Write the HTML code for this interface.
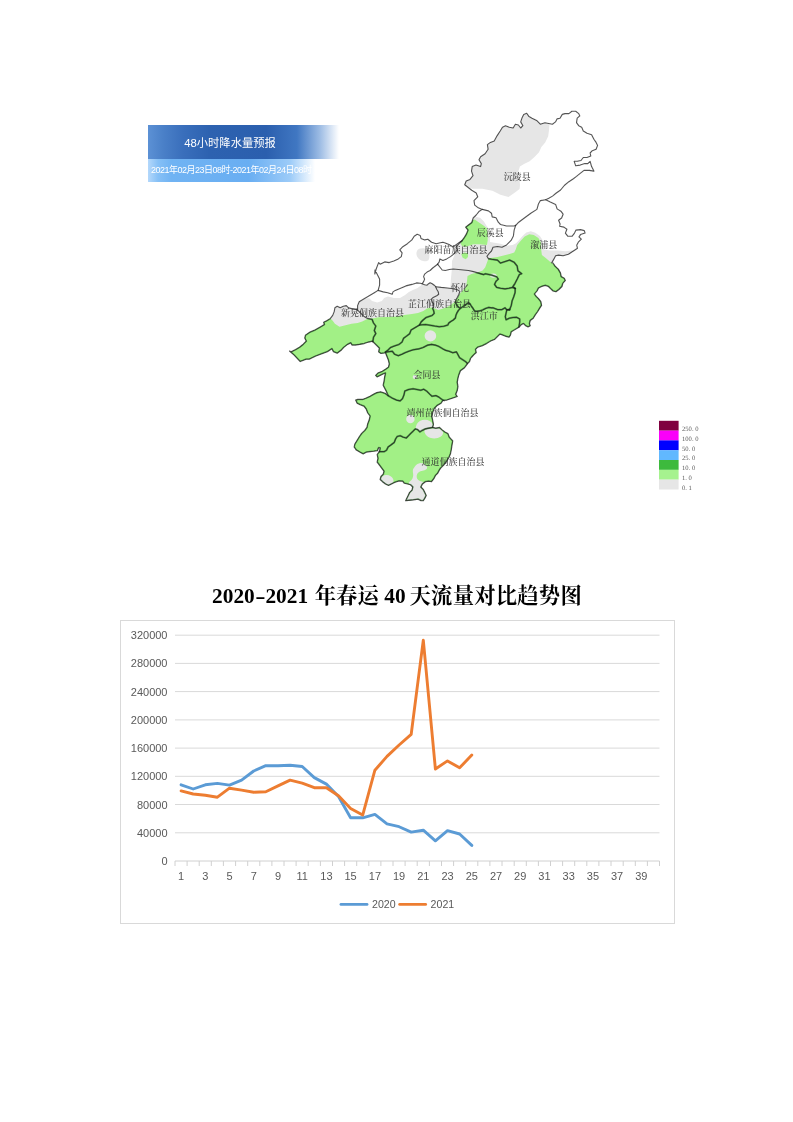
<!DOCTYPE html>
<html lang="zh"><head><meta charset="utf-8"><title>page</title>
<style>
html,body{margin:0;padding:0;background:#fff;}
body{width:793px;height:1122px;position:relative;overflow:hidden;font-family:"Liberation Sans","Noto Sans CJK SC",sans-serif;}
svg{position:absolute;left:0;top:0;}
.ax{font-family:"Liberation Sans",sans-serif;font-size:11px;fill:#595959;}
.ml{font-family:"Liberation Serif","Noto Serif CJK SC",serif;font-size:9px;font-weight:500;fill:#2a2a2a;fill-opacity:.88;}
.lg{font-family:"Liberation Serif","Noto Serif CJK SC",serif;font-size:6.6px;fill:#5a5a5a;text-rendering:geometricPrecision;}
#b1{position:absolute;left:148px;top:125.3px;width:190.5px;height:33.7px;background:linear-gradient(90deg,#5c91d5 0%,#4a80c8 8%,#3a6fbc 18%,#2d62b0 32%,#2b5fae 62%,#4077c2 78%,#9dbce4 90%,#ffffff 100%);color:#fff;font-size:11.3px;line-height:33.7px;}
#b1 span{position:absolute;left:36.2px;top:1.6px;white-space:nowrap;}
#b2{position:absolute;left:148px;top:159px;width:167px;height:22.7px;background:linear-gradient(90deg,#b4d8fb 0%,#86c0f6 6%,#70b3f3 14%,#69aef2 60%,#9ccbf8 85%,#ffffff 100%);color:#fff;font-size:9px;line-height:22.7px;white-space:nowrap;overflow:hidden;}
#b2 span{position:absolute;left:3px;top:0;letter-spacing:-0.5px;}
#title{position:absolute;left:212.1px;top:582px;width:500px;text-align:left;font-family:"Liberation Serif","Noto Serif CJK SC",serif;font-weight:bold;font-size:21.33px;line-height:28px;color:#000;white-space:nowrap;}
#title .hy{display:inline-block;width:10.67px;text-align:center;transform:scaleX(1.45);}
#title .g{display:inline-block;width:6.7px;}
</style></head><body>
<div id="b1"><span>48小时降水量预报</span></div>
<div id="b2"><span>2021年02月23日08时-2021年02月24日08时</span></div>
<svg width="793" height="1122" viewBox="0 0 793 1122">
<defs><clipPath id="cp"><path d="M461.9,240.7 L464.1,237.7 L466.4,233.9 L467.9,230.1 L465.6,227.1 L468.7,224.8 L471.7,222.5 L473.2,218.0 L476.2,215.0 L479.3,211.2 L482.3,209.4 L477.7,207.4 L474.7,205.1 L474.0,200.6 L477.7,196.8 L476.2,193.0 L471.7,190.3 L464.7,184.7 L466.2,181.0 L470.0,179.4 L473.0,175.7 L471.5,171.1 L472.2,166.6 L476.0,165.1 L480.6,166.6 L481.3,163.6 L479.0,159.8 L480.6,156.7 L485.1,153.7 L488.1,149.2 L487.4,144.6 L490.4,142.4 L494.2,140.9 L497.2,135.6 L500.2,131.0 L502.5,127.2 L505.5,125.7 L509.3,127.2 L513.1,128.0 L515.4,124.2 L518.4,125.0 L520.7,128.0 L522.9,125.7 L520.7,121.9 L522.2,117.4 L523.7,114.4 L526.7,113.3 L529.0,116.6 L532.0,118.2 L536.6,120.4 L540.3,124.2 L544.9,122.7 L548.7,123.5 L552.4,124.2 L555.5,121.9 L557.0,118.9 L560.0,118.2 L562.3,114.4 L565.0,113.6 L568.9,113.6 L571.9,111.3 L575.7,111.3 L578.7,113.6 L579.8,115.9 L577.2,118.2 L576.5,122.7 L578.7,125.7 L581.7,127.2 L583.3,131.0 L587.0,133.3 L591.6,134.8 L593.9,139.3 L596.1,142.4 L597.6,145.4 L596.1,149.2 L592.3,150.7 L590.1,153.0 L590.8,156.0 L587.0,157.5 L583.3,157.5 L581.0,160.5 L577.2,161.3 L574.2,161.3 L575.7,165.8 L580.2,165.1 L584.8,163.6 L587.8,163.6 L590.1,161.3 L591.6,166.6 L593.9,171.1 L589.3,170.4 L584.0,170.4 L580.2,173.4 L576.5,176.4 L573.4,178.7 L568.9,181.7 L564.3,185.5 L560.6,190.0 L556.3,193.0 L552.5,196.1 L548.8,198.3 L545.7,199.8 L550.3,202.1 L555.6,204.4 L557.1,208.9 L560.9,211.2 L563.1,214.2 L561.6,218.0 L558.6,220.3 L560.1,224.0 L559.6,226.3 L563.9,227.1 L566.9,229.3 L565.4,233.1 L567.7,236.2 L572.2,236.2 L574.5,233.1 L576.0,230.1 L580.5,229.6 L584.3,230.6 L585.1,233.1 L580.5,234.6 L579.0,236.9 L581.3,239.2 L578.3,242.2 L576.7,245.2 L577.5,248.3 L573.0,251.3 L568.4,254.3 L563.1,255.8 L558.6,255.1 L555.6,255.8 L554.0,258.9 L551.8,262.6 L553.0,263.0 L555.2,266.1 L558.3,269.1 L560.5,272.9 L561.3,276.6 L564.3,278.2 L565.4,280.4 L562.8,283.5 L562.0,286.5 L559.0,289.5 L556.0,291.8 L553.0,291.0 L550.7,288.8 L548.4,286.5 L545.4,285.4 L541.6,286.5 L538.6,288.0 L537.1,291.0 L534.5,294.0 L536.3,296.3 L538.6,298.6 L540.9,301.6 L541.6,305.4 L539.6,308.4 L537.8,311.5 L535.6,314.5 L533.3,318.3 L530.3,320.5 L529.5,323.6 L530.3,325.8 L528.0,326.9 L525.7,325.8 L523.5,323.6 L521.2,324.8 L518.9,327.3 L515.1,329.6 L511.3,331.9 L510.6,334.9 L509.1,337.2 L506.1,336.4 L502.3,334.9 L500.0,334.2 L497.5,336.6 L494.5,339.6 L490.7,341.1 L486.9,343.4 L482.4,345.7 L477.8,347.2 L475.6,349.4 L476.3,352.5 L474.0,354.7 L471.8,357.0 L470.6,358.5 L469.6,361.6 L467.6,363.6 L464.6,367.7 L460.5,370.7 L458.8,375.2 L458.0,378.4 L457.3,382.2 L458.0,386.7 L457.3,390.5 L455.8,394.3 L457.3,396.6 L453.0,398.1 L447.0,400.1 L442.9,400.5 L441.1,403.2 L437.3,405.4 L434.3,408.5 L432.8,412.2 L432.0,416.8 L432.8,420.6 L433.5,424.3 L432.8,427.4 L435.8,428.1 L439.6,427.4 L441.9,429.6 L444.9,431.9 L447.9,433.4 L449.4,437.2 L452.8,440.9 L452.0,445.4 L451.3,450.0 L450.5,453.8 L449.0,457.5 L446.7,461.3 L443.7,465.1 L440.7,468.1 L439.2,470.4 L437.6,473.4 L435.4,475.7 L433.9,478.7 L431.6,481.7 L428.6,481.3 L425.5,481.7 L422.5,484.0 L421.0,487.0 L423.3,489.3 L424.8,492.3 L426.3,495.4 L424.8,498.4 L423.3,500.7 L421.0,500.7 L418.0,499.2 L413.4,499.9 L408.9,500.4 L405.6,500.7 L406.6,498.4 L408.1,495.4 L409.6,492.3 L411.9,490.1 L412.7,487.0 L410.4,484.8 L407.4,484.0 L404.3,483.3 L402.8,481.3 L399.0,481.0 L394.5,482.5 L391.5,484.0 L388.5,485.5 L385.4,484.0 L382.4,481.7 L380.1,479.5 L380.9,476.5 L383.2,474.2 L383.9,471.2 L381.6,468.1 L379.4,465.1 L377.1,462.1 L377.9,458.3 L377.1,454.5 L379.4,451.5 L380.1,448.0 L378.6,447.7 L377.5,450.8 L373.8,451.3 L370.0,451.6 L366.2,452.3 L363.2,453.9 L360.1,452.3 L356.3,450.1 L354.1,447.0 L354.8,444.0 L357.1,440.2 L359.4,436.5 L361.6,433.4 L364.7,430.4 L366.9,427.4 L367.7,423.6 L369.2,419.8 L370.0,416.0 L367.7,413.0 L366.2,409.2 L363.9,406.2 L360.1,404.7 L357.1,403.2 L355.6,400.1 L357.9,399.4 L362.4,399.4 L366.2,397.9 L370.0,396.3 L373.8,394.1 L376.8,392.6 L380.6,391.8 L385.1,393.3 L388.1,395.6 L386.2,391.3 L384.6,388.3 L383.1,385.2 L383.9,381.5 L384.6,376.9 L385.4,373.1 L383.1,373.9 L380.1,375.4 L377.1,376.9 L375.6,375.4 L377.8,373.1 L381.6,371.6 L385.4,369.3 L388.4,367.1 L389.2,364.0 L388.4,360.3 L386.9,356.5 L385.4,352.7 L384.6,353.0 L380.9,353.5 L378.6,351.9 L379.3,348.2 L376.3,345.1 L372.5,341.3 L368.8,342.1 L364.2,343.6 L359.7,344.4 L355.1,345.1 L352.1,345.1 L350.6,342.9 L347.6,344.4 L343.8,347.4 L341.5,350.0 L337.2,353.2 L333.4,351.7 L331.9,348.7 L327.4,351.7 L321.3,354.0 L315.3,356.3 L309.2,359.3 L306.2,359.2 L300.2,361.6 L294.1,355.2 L289.5,351.0 L291.1,351.7 L295.6,349.4 L299.4,347.2 L303.2,344.2 L306.2,341.1 L304.7,338.1 L305.4,335.1 L310.0,332.0 L315.3,329.8 L320.6,326.7 L324.3,324.5 L323.6,322.2 L326.6,320.7 L330.4,318.4 L332.7,315.4 L334.2,311.6 L334.9,307.8 L337.2,306.3 L340.2,307.8 L343.3,306.3 L346.3,305.6 L348.6,307.8 L351.6,308.6 L356.9,309.6 L357.6,310.1 L357.6,305.6 L359.2,301.8 L362.9,299.5 L366.7,297.2 L370.5,295.0 L374.3,292.7 L378.1,290.4 L379.6,285.1 L379.6,279.1 L377.3,274.5 L375.0,270.0 L374.8,274.0 L376.3,268.7 L378.6,262.6 L380.1,264.2 L384.7,261.9 L389.2,262.6 L393.8,261.1 L398.3,258.9 L401.3,256.6 L402.1,252.8 L399.8,249.8 L402.8,246.7 L407.4,243.7 L411.9,239.9 L414.2,236.2 L417.2,234.3 L420.2,235.4 L421.0,238.4 L424.8,239.9 L427.8,239.2 L431.6,242.2 L436.1,243.7 L439.2,243.0 L442.9,242.2 L445.2,243.0 L449.0,244.5 L452.8,246.7 L456.6,244.5 L459.6,242.2Z"/></clipPath><filter id="bl" x="-5%" y="-5%" width="110%" height="110%"><feGaussianBlur stdDeviation="0.4"/></filter></defs>
<g filter="url(#bl)">
<g clip-path="url(#cp)">
<path d="M549.4,124.2 L549.0,130.3 L548.2,136.3 L545.2,142.4 L541.4,146.9 L539.0,152.2 L534.5,157.0 L529.6,161.3 L524.0,164.0 L519.9,166.6 L518.5,171.0 L519.5,178.7 L520.0,185.0 L519.6,189.0 L514.6,192.8 L508.5,196.9 L500.4,194.8 L492.4,190.8 L482.3,188.8 L472.2,188.8 L467.2,186.8 L455.0,185.0 L455.0,95.0 L550.0,95.0Z" fill="#e6e6e6"/>
<path d="M362.0,300.5 L364.0,299.3 L369.0,298.0 L372.0,301.0 L377.3,302.5 L381.9,301.0 L384.1,298.0 L387.9,296.5 L394.0,298.0 L400.0,298.0 L405.1,295.0 L408.9,291.9 L413.4,289.7 L417.2,288.2 L421.0,285.5 L422.1,283.7 L424.6,284.7 L427.1,285.2 L428.6,283.7 L430.1,282.7 L432.2,283.7 L434.2,285.2 L435.7,286.7 L450.3,288.0 L450.8,280.1 L451.8,270.0 L452.0,261.1 L454.3,255.5 L456.8,251.0 L457.0,247.5 L459.6,243.0 L461.9,240.7 L458.0,236.0 L462.0,228.0 L466.0,220.0 L472.5,219.0 L476.3,216.9 L480.1,217.7 L483.9,221.5 L486.2,225.3 L488.4,228.3 L490.0,234.0 L490.0,241.9 L494.5,242.7 L500.5,243.7 L506.6,245.7 L512.6,244.9 L515.7,243.4 L518.7,240.4 L522.5,235.9 L526.3,232.5 L530.8,231.3 L535.3,232.8 L539.9,235.9 L542.5,240.0 L543.8,246.0 L544.0,249.5 L550.3,250.5 L557.8,250.5 L565.4,251.3 L571.5,250.5 L580.0,250.0 L580.0,270.0 L480.0,275.0 L470.0,305.0 L440.0,315.0 L400.0,322.0 L340.0,332.0 L325.0,325.0 L322.0,305.0 L340.0,298.0 L356.0,301.0Z" fill="#e6e6e6"/>
<path d="M416.6,251.9 Q417.1,249.4 419.1,248.7 Q421.2,248.0 423.7,248.2 Q426.2,248.4 427.7,249.9 Q429.2,251.5 429.4,254.0 Q429.6,256.5 429.2,258.5 Q428.8,260.5 427.0,261.0 Q425.2,261.5 423.2,261.0 Q421.2,260.5 419.6,259.5 Q418.1,258.5 417.1,256.5 Q416.1,254.5 416.6,251.9Z" fill="#e6e6e6"/>
<path d="M464.0,222.0 L470.0,221.0 L474.8,219.5 L478.6,222.2 L483.1,225.3 L486.9,228.3 L487.7,234.3 L487.7,240.4 L486.9,244.9 L479.3,244.2 L473.3,244.2 L468.8,245.7 L465.7,247.0 L462.0,246.0 L460.5,243.5 L461.9,240.7 L458.0,240.0 L460.0,232.0Z" fill="#a2f086"/>
<path d="M461.2,254.0 L464.2,252.5 L468.0,253.3 L468.0,257.0 L465.7,259.3 L462.7,257.8Z" fill="#a2f086"/>
<path d="M280.0,330.0 L329.0,317.0 L332.7,320.7 L334.9,323.7 L339.5,326.7 L345.5,325.2 L351.6,323.7 L357.6,323.0 L362.2,321.5 L366.7,319.2 L372.0,318.4 L378.8,317.2 L387.9,316.9 L397.0,316.5 L404.3,315.0 L411.9,313.9 L418.0,313.1 L423.3,310.9 L427.0,308.6 L430.1,307.4 L433.7,307.9 L438.2,309.9 L443.2,308.4 L449.3,305.9 L454.3,302.3 L457.4,298.3 L459.9,293.8 L462.4,290.7 L465.9,287.2 L467.0,281.1 L467.5,276.1 L471.5,273.9 L477.5,272.6 L482.6,270.5 L485.1,267.5 L486.1,265.0 L488.4,258.6 L492.2,257.8 L497.5,257.0 L503.6,255.5 L509.6,254.0 L514.2,252.5 L515.7,249.5 L517.2,244.9 L521.0,240.4 L524.7,236.6 L529.3,234.3 L533.8,235.1 L538.4,238.1 L541.0,242.5 L541.2,249.8 L541.9,255.1 L545.7,258.1 L551.0,262.6 L556.0,266.0 L620.0,300.0 L620.0,520.0 L280.0,520.0Z" fill="#a2f086"/>
<ellipse cx="430.4" cy="335.9" rx="5.8" ry="5.6" fill="#e6e6e6"/>
<ellipse cx="414.9" cy="376.9" rx="2.2" ry="2.0" fill="#e6e6e6"/>
<ellipse cx="410.4" cy="419" rx="4.2" ry="4.3" fill="#e6e6e6"/>
<ellipse cx="493.3" cy="275.6" rx="3.3" ry="2.1" fill="#e6e6e6"/>
<path d="M415.7,427.4 Q416.1,425.9 416.9,424.0 Q417.6,422.1 419.9,420.9 Q422.2,419.8 424.8,419.8 Q427.5,419.8 429.7,420.9 Q432.0,422.1 433.2,424.7 Q434.3,427.4 431.6,427.8 Q429.0,428.1 427.1,428.5 Q425.2,428.9 423.7,429.6 Q422.2,430.4 421.0,431.2 Q419.9,431.9 418.8,430.8 Q417.6,429.6 416.5,429.3 Q415.4,428.9 415.7,427.4Z" fill="#e6e6e6"/>
<path d="M424.8,433.0 Q423.7,430.4 425.6,429.6 Q427.5,428.9 430.1,428.5 Q432.8,428.1 435.8,428.1 Q438.8,428.1 440.7,429.3 Q442.6,430.4 443.0,432.3 Q443.4,434.2 441.9,435.7 Q440.3,437.2 437.7,438.0 Q435.0,438.7 432.4,438.3 Q429.7,438.0 427.9,436.8 Q426.0,435.7 424.8,433.0Z" fill="#e6e6e6"/>
<path d="M414.2,467.4 Q414.9,466.6 416.1,465.1 Q417.2,463.6 419.5,463.2 Q421.7,462.8 423.6,463.7 Q425.5,464.6 426.7,466.4 Q427.8,468.1 426.3,469.3 Q424.8,470.4 422.5,470.8 Q420.2,471.2 418.7,472.3 Q417.2,473.4 416.8,475.3 Q416.5,477.2 417.2,478.7 Q418.0,480.2 419.9,481.0 Q421.7,481.7 423.6,482.0 Q425.5,482.2 424.0,483.3 Q422.5,484.3 421.9,485.7 Q421.3,487.0 422.3,488.2 Q423.3,489.3 424.8,492.3 Q426.3,495.4 425.5,498.8 Q424.8,502.2 414.6,502.2 Q404.3,502.2 406.2,498.8 Q408.1,495.4 410.0,492.7 Q411.9,490.1 412.3,488.6 Q412.7,487.0 411.5,485.9 Q410.4,484.8 409.3,484.0 Q408.1,483.3 409.3,482.1 Q410.4,481.0 411.5,479.9 Q412.7,478.7 413.0,476.8 Q413.4,474.9 413.0,473.0 Q412.7,471.2 413.0,469.6 Q413.4,468.1 414.2,467.4Z" fill="#e6e6e6"/>
<path d="M380.2,478.5 Q380.9,477.2 382.4,476.2 Q383.9,475.2 386.2,475.1 Q388.5,474.9 390.3,476.1 Q392.2,477.2 393.0,478.7 Q393.8,480.2 393.4,481.7 Q393.0,483.3 391.5,484.2 Q390.0,485.2 387.7,485.0 Q385.4,484.8 383.7,483.6 Q381.9,482.5 380.7,481.1 Q379.5,479.8 380.2,478.5Z" fill="#e6e6e6"/>
</g>
<clipPath id="gcp"><path d="M464.0,222.0 L470.0,221.0 L474.8,219.5 L478.6,222.2 L483.1,225.3 L486.9,228.3 L487.7,234.3 L487.7,240.4 L486.9,244.9 L479.3,244.2 L473.3,244.2 L468.8,245.7 L465.7,247.0 L462.0,246.0 L460.5,243.5 L461.9,240.7 L458.0,240.0 L460.0,232.0Z"/><path d="M461.2,254.0 L464.2,252.5 L468.0,253.3 L468.0,257.0 L465.7,259.3 L462.7,257.8Z"/><path d="M280.0,330.0 L329.0,317.0 L332.7,320.7 L334.9,323.7 L339.5,326.7 L345.5,325.2 L351.6,323.7 L357.6,323.0 L362.2,321.5 L366.7,319.2 L372.0,318.4 L378.8,317.2 L387.9,316.9 L397.0,316.5 L404.3,315.0 L411.9,313.9 L418.0,313.1 L423.3,310.9 L427.0,308.6 L430.1,307.4 L433.7,307.9 L438.2,309.9 L443.2,308.4 L449.3,305.9 L454.3,302.3 L457.4,298.3 L459.9,293.8 L462.4,290.7 L465.9,287.2 L467.0,281.1 L467.5,276.1 L471.5,273.9 L477.5,272.6 L482.6,270.5 L485.1,267.5 L486.1,265.0 L488.4,258.6 L492.2,257.8 L497.5,257.0 L503.6,255.5 L509.6,254.0 L514.2,252.5 L515.7,249.5 L517.2,244.9 L521.0,240.4 L524.7,236.6 L529.3,234.3 L533.8,235.1 L538.4,238.1 L541.0,242.5 L541.2,249.8 L541.9,255.1 L545.7,258.1 L551.0,262.6 L556.0,266.0 L620.0,300.0 L620.0,520.0 L280.0,520.0Z"/></clipPath>
<g clip-path="url(#cp)"><g clip-path="url(#gcp)" fill="none" stroke="#2f7d2f" stroke-opacity="0.6" stroke-width="1.9" stroke-linejoin="round" stroke-linecap="round">
<path d="M461.9,240.7 L464.1,237.7 L466.4,233.9 L467.9,230.1 L465.6,227.1 L468.7,224.8 L471.7,222.5 L473.2,218.0 L476.2,215.0 L479.3,211.2 L482.3,209.4 L477.7,207.4 L474.7,205.1 L474.0,200.6 L477.7,196.8 L476.2,193.0 L471.7,190.3 L464.7,184.7 L466.2,181.0 L470.0,179.4 L473.0,175.7 L471.5,171.1 L472.2,166.6 L476.0,165.1 L480.6,166.6 L481.3,163.6 L479.0,159.8 L480.6,156.7 L485.1,153.7 L488.1,149.2 L487.4,144.6 L490.4,142.4 L494.2,140.9 L497.2,135.6 L500.2,131.0 L502.5,127.2 L505.5,125.7 L509.3,127.2 L513.1,128.0 L515.4,124.2 L518.4,125.0 L520.7,128.0 L522.9,125.7 L520.7,121.9 L522.2,117.4 L523.7,114.4 L526.7,113.3 L529.0,116.6 L532.0,118.2 L536.6,120.4 L540.3,124.2 L544.9,122.7 L548.7,123.5 L552.4,124.2 L555.5,121.9 L557.0,118.9 L560.0,118.2 L562.3,114.4 L565.0,113.6 L568.9,113.6 L571.9,111.3 L575.7,111.3 L578.7,113.6 L579.8,115.9 L577.2,118.2 L576.5,122.7 L578.7,125.7 L581.7,127.2 L583.3,131.0 L587.0,133.3 L591.6,134.8 L593.9,139.3 L596.1,142.4 L597.6,145.4 L596.1,149.2 L592.3,150.7 L590.1,153.0 L590.8,156.0 L587.0,157.5 L583.3,157.5 L581.0,160.5 L577.2,161.3 L574.2,161.3 L575.7,165.8 L580.2,165.1 L584.8,163.6 L587.8,163.6 L590.1,161.3 L591.6,166.6 L593.9,171.1 L589.3,170.4 L584.0,170.4 L580.2,173.4 L576.5,176.4 L573.4,178.7 L568.9,181.7 L564.3,185.5 L560.6,190.0 L556.3,193.0 L552.5,196.1 L548.8,198.3 L545.7,199.8 L550.3,202.1 L555.6,204.4 L557.1,208.9 L560.9,211.2 L563.1,214.2 L561.6,218.0 L558.6,220.3 L560.1,224.0 L559.6,226.3 L563.9,227.1 L566.9,229.3 L565.4,233.1 L567.7,236.2 L572.2,236.2 L574.5,233.1 L576.0,230.1 L580.5,229.6 L584.3,230.6 L585.1,233.1 L580.5,234.6 L579.0,236.9 L581.3,239.2 L578.3,242.2 L576.7,245.2 L577.5,248.3 L573.0,251.3 L568.4,254.3 L563.1,255.8 L558.6,255.1 L555.6,255.8 L554.0,258.9 L551.8,262.6 L553.0,263.0 L555.2,266.1 L558.3,269.1 L560.5,272.9 L561.3,276.6 L564.3,278.2 L565.4,280.4 L562.8,283.5 L562.0,286.5 L559.0,289.5 L556.0,291.8 L553.0,291.0 L550.7,288.8 L548.4,286.5 L545.4,285.4 L541.6,286.5 L538.6,288.0 L537.1,291.0 L534.5,294.0 L536.3,296.3 L538.6,298.6 L540.9,301.6 L541.6,305.4 L539.6,308.4 L537.8,311.5 L535.6,314.5 L533.3,318.3 L530.3,320.5 L529.5,323.6 L530.3,325.8 L528.0,326.9 L525.7,325.8 L523.5,323.6 L521.2,324.8 L518.9,327.3 L515.1,329.6 L511.3,331.9 L510.6,334.9 L509.1,337.2 L506.1,336.4 L502.3,334.9 L500.0,334.2 L497.5,336.6 L494.5,339.6 L490.7,341.1 L486.9,343.4 L482.4,345.7 L477.8,347.2 L475.6,349.4 L476.3,352.5 L474.0,354.7 L471.8,357.0 L470.6,358.5 L469.6,361.6 L467.6,363.6 L464.6,367.7 L460.5,370.7 L458.8,375.2 L458.0,378.4 L457.3,382.2 L458.0,386.7 L457.3,390.5 L455.8,394.3 L457.3,396.6 L453.0,398.1 L447.0,400.1 L442.9,400.5 L441.1,403.2 L437.3,405.4 L434.3,408.5 L432.8,412.2 L432.0,416.8 L432.8,420.6 L433.5,424.3 L432.8,427.4 L435.8,428.1 L439.6,427.4 L441.9,429.6 L444.9,431.9 L447.9,433.4 L449.4,437.2 L452.8,440.9 L452.0,445.4 L451.3,450.0 L450.5,453.8 L449.0,457.5 L446.7,461.3 L443.7,465.1 L440.7,468.1 L439.2,470.4 L437.6,473.4 L435.4,475.7 L433.9,478.7 L431.6,481.7 L428.6,481.3 L425.5,481.7 L422.5,484.0 L421.0,487.0 L423.3,489.3 L424.8,492.3 L426.3,495.4 L424.8,498.4 L423.3,500.7 L421.0,500.7 L418.0,499.2 L413.4,499.9 L408.9,500.4 L405.6,500.7 L406.6,498.4 L408.1,495.4 L409.6,492.3 L411.9,490.1 L412.7,487.0 L410.4,484.8 L407.4,484.0 L404.3,483.3 L402.8,481.3 L399.0,481.0 L394.5,482.5 L391.5,484.0 L388.5,485.5 L385.4,484.0 L382.4,481.7 L380.1,479.5 L380.9,476.5 L383.2,474.2 L383.9,471.2 L381.6,468.1 L379.4,465.1 L377.1,462.1 L377.9,458.3 L377.1,454.5 L379.4,451.5 L380.1,448.0 L378.6,447.7 L377.5,450.8 L373.8,451.3 L370.0,451.6 L366.2,452.3 L363.2,453.9 L360.1,452.3 L356.3,450.1 L354.1,447.0 L354.8,444.0 L357.1,440.2 L359.4,436.5 L361.6,433.4 L364.7,430.4 L366.9,427.4 L367.7,423.6 L369.2,419.8 L370.0,416.0 L367.7,413.0 L366.2,409.2 L363.9,406.2 L360.1,404.7 L357.1,403.2 L355.6,400.1 L357.9,399.4 L362.4,399.4 L366.2,397.9 L370.0,396.3 L373.8,394.1 L376.8,392.6 L380.6,391.8 L385.1,393.3 L388.1,395.6 L386.2,391.3 L384.6,388.3 L383.1,385.2 L383.9,381.5 L384.6,376.9 L385.4,373.1 L383.1,373.9 L380.1,375.4 L377.1,376.9 L375.6,375.4 L377.8,373.1 L381.6,371.6 L385.4,369.3 L388.4,367.1 L389.2,364.0 L388.4,360.3 L386.9,356.5 L385.4,352.7 L384.6,353.0 L380.9,353.5 L378.6,351.9 L379.3,348.2 L376.3,345.1 L372.5,341.3 L368.8,342.1 L364.2,343.6 L359.7,344.4 L355.1,345.1 L352.1,345.1 L350.6,342.9 L347.6,344.4 L343.8,347.4 L341.5,350.0 L337.2,353.2 L333.4,351.7 L331.9,348.7 L327.4,351.7 L321.3,354.0 L315.3,356.3 L309.2,359.3 L306.2,359.2 L300.2,361.6 L294.1,355.2 L289.5,351.0 L291.1,351.7 L295.6,349.4 L299.4,347.2 L303.2,344.2 L306.2,341.1 L304.7,338.1 L305.4,335.1 L310.0,332.0 L315.3,329.8 L320.6,326.7 L324.3,324.5 L323.6,322.2 L326.6,320.7 L330.4,318.4 L332.7,315.4 L334.2,311.6 L334.9,307.8 L337.2,306.3 L340.2,307.8 L343.3,306.3 L346.3,305.6 L348.6,307.8 L351.6,308.6 L356.9,309.6 L357.6,310.1 L357.6,305.6 L359.2,301.8 L362.9,299.5 L366.7,297.2 L370.5,295.0 L374.3,292.7 L378.1,290.4 L379.6,285.1 L379.6,279.1 L377.3,274.5 L375.0,270.0 L374.8,274.0 L376.3,268.7 L378.6,262.6 L380.1,264.2 L384.7,261.9 L389.2,262.6 L393.8,261.1 L398.3,258.9 L401.3,256.6 L402.1,252.8 L399.8,249.8 L402.8,246.7 L407.4,243.7 L411.9,239.9 L414.2,236.2 L417.2,234.3 L420.2,235.4 L421.0,238.4 L424.8,239.9 L427.8,239.2 L431.6,242.2 L436.1,243.7 L439.2,243.0 L442.9,242.2 L445.2,243.0 L449.0,244.5 L452.8,246.7 L456.6,244.5 L459.6,242.2Z"/>
<path d="M482.3,209.4 L488.4,210.9 L491.5,213.2 L492.2,216.9 L496.0,217.7 L498.3,222.2 L500.5,224.5 L506.6,226.0 L514.2,226.0 L515.7,225.3 L518.7,222.2 L524.7,217.7 L530.8,213.2 L536.9,209.4 L538.4,204.1 L540.4,200.6 L545.7,199.8"/>
<path d="M515.7,225.3 L514.2,229.8 L513.4,235.9 L511.1,240.4 L506.6,244.9 L502.0,247.2 L497.5,246.5 L493.0,247.2 L491.5,251.0 L489.2,253.3 L486.9,256.3 L488.4,258.6 L491.5,259.3 L497.5,260.1 L500.5,263.1 L505.1,261.6 L509.6,260.1 L514.2,262.3 L517.2,266.1 L517.9,270.7 L521.7,273.7 L519.4,274.5 L517.2,279.1 L514.9,283.6 L512.9,286.6 L515.2,288.5"/>
<path d="M437.6,264.2 L440.2,267.5 L442.2,270.0 L445.3,270.5 L449.3,269.5 L453.3,269.0 L458.4,269.5 L463.4,270.0 L468.5,270.5 L473.5,271.6 L478.6,273.1 L483.6,274.6 L485.4,273.8 L492.2,275.3 L496.7,276.8 L498.3,279.1 L496.0,281.3 L494.5,284.4 L496.7,287.4 L500.5,288.2 L505.1,288.9 L508.9,288.2 L512.6,287.4 L515.2,288.5"/>
<path d="M461.9,240.7 L459.6,243.0 L456.6,246.7 L457.3,249.8 L454.3,253.6 L450.5,256.6 L446.7,258.9 L442.9,260.4 L439.9,258.9 L439.2,261.9 L437.6,264.2"/>
<path d="M437.6,264.2 L432.7,268.0 L430.1,270.5 L427.1,272.1 L424.6,274.1 L423.6,276.6 L424.6,279.1 L423.6,281.6 L422.1,283.7 L420.2,283.3 L416.5,282.9 L411.9,284.4 L405.9,285.9 L400.6,288.2 L395.3,290.4 L393.0,291.9 L392.2,294.2 L387.7,292.7 L383.2,291.9 L378.1,290.4"/>
<path d="M422.1,283.7 L424.6,284.7 L427.1,285.2 L428.6,283.7 L430.1,282.7 L432.2,283.7 L434.2,285.2 L435.7,286.7 L436.7,289.2 L438.2,291.7 L438.7,294.3 L436.7,295.8 L434.7,296.8 L432.7,297.8 L431.1,299.3 L432.2,301.8 L433.7,303.8 L433.2,306.4 L432.7,308.4 L433.7,310.9 L434.2,313.4 L432.2,315.4 L429.1,316.5 L426.1,317.5 L423.1,320.0 L421.1,322.0 L419.5,325.0"/>
<path d="M435.7,286.7 L441.2,287.4 L447.3,288.0 L453.3,288.7 L457.4,289.7 L459.9,291.4 L458.9,294.3 L457.4,297.3 L455.9,299.8 L455.4,302.3 L456.9,305.4 L459.4,307.9"/>
<path d="M385.4,352.1 L388.4,349.7 L390.7,347.4 L394.5,345.9 L399.0,344.4 L402.0,342.1 L403.6,338.3 L406.6,336.1 L409.6,333.8 L411.1,330.0 L419.5,325.0 L425.5,324.5 L430.1,325.2 L434.6,326.0 L439.2,326.7 L443.7,326.3 L447.8,325.0 L448.8,323.0 L450.8,321.5 L453.3,320.0 L455.4,318.0 L455.9,315.4 L456.9,312.9 L458.4,310.4 L460.4,308.4 L462.4,306.9 L465.4,304.8 L468.5,302.8 L470.0,303.8 L471.5,306.4 L473.0,308.4 L474.5,310.9 L476.5,311.4 L479.6,310.9 L482.6,309.9 L485.6,308.4 L488.6,307.4 L491.7,307.9 L493.0,307.8 L497.5,309.6 L502.0,309.6 L505.1,307.8 L506.6,309.6 L509.6,310.1"/>
<path d="M515.2,288.5 L515.1,292.5 L513.6,297.1 L512.1,300.9 L511.3,305.4 L509.8,309.2"/>
<path d="M509.8,309.2 L506.8,309.9 L506.1,313.0 L505.3,316.7 L506.1,319.8 L509.1,318.3 L512.9,317.5 L516.6,317.2 L519.7,319.0 L519.7,322.0 L518.9,327.3"/>
<path d="M385.4,352.1 L392.2,351.2 L394.5,354.2 L398.3,355.7 L402.0,354.2 L405.1,352.7 L408.9,351.2 L413.4,349.7 L418.7,348.9 L423.2,347.4 L427.8,345.1 L431.6,344.4 L435.3,345.1 L439.1,346.6 L442.9,348.9 L445.9,350.4 L449.0,351.2 L452.7,352.7 L456.5,351.9 L459.5,357.6 L462.5,359.6 L465.6,361.6 L467.6,363.6"/>
<path d="M357.6,310.1 L360.7,313.1 L363.7,316.2 L367.5,318.4 L372.0,319.2 L373.5,323.0 L375.8,326.0 L374.3,330.5 L375.8,333.6 L373.5,337.3 L372.8,341.9 L372.5,341.3"/>
<path d="M388.1,395.6 L391.9,397.9 L396.5,400.1 L400.2,400.9 L402.5,398.6 L404.0,394.8 L404.8,391.1 L408.6,389.5 L413.1,388.8 L416.9,389.5 L420.7,390.3 L423.7,389.2 L426.7,391.1 L429.7,394.1 L432.0,396.3 L435.8,395.6 L438.8,397.1 L441.9,399.4 L444.1,400.9"/>
<path d="M379.0,451.6 L381.3,451.6 L384.3,451.6 L386.6,450.1 L388.1,447.0 L391.2,444.8 L394.2,442.5 L395.7,438.7 L397.2,436.5 L400.2,435.7 L403.3,437.2 L406.3,438.0 L408.6,435.7 L410.8,433.4 L413.1,431.2 L415.4,428.9 L417.6,429.6 L419.9,431.9 L422.2,430.4 L425.2,428.9 L429.0,428.1 L432.8,427.4"/>
</g></g>
<path d="M461.9,240.7 L464.1,237.7 L466.4,233.9 L467.9,230.1 L465.6,227.1 L468.7,224.8 L471.7,222.5 L473.2,218.0 L476.2,215.0 L479.3,211.2 L482.3,209.4 L477.7,207.4 L474.7,205.1 L474.0,200.6 L477.7,196.8 L476.2,193.0 L471.7,190.3 L464.7,184.7 L466.2,181.0 L470.0,179.4 L473.0,175.7 L471.5,171.1 L472.2,166.6 L476.0,165.1 L480.6,166.6 L481.3,163.6 L479.0,159.8 L480.6,156.7 L485.1,153.7 L488.1,149.2 L487.4,144.6 L490.4,142.4 L494.2,140.9 L497.2,135.6 L500.2,131.0 L502.5,127.2 L505.5,125.7 L509.3,127.2 L513.1,128.0 L515.4,124.2 L518.4,125.0 L520.7,128.0 L522.9,125.7 L520.7,121.9 L522.2,117.4 L523.7,114.4 L526.7,113.3 L529.0,116.6 L532.0,118.2 L536.6,120.4 L540.3,124.2 L544.9,122.7 L548.7,123.5 L552.4,124.2 L555.5,121.9 L557.0,118.9 L560.0,118.2 L562.3,114.4 L565.0,113.6 L568.9,113.6 L571.9,111.3 L575.7,111.3 L578.7,113.6 L579.8,115.9 L577.2,118.2 L576.5,122.7 L578.7,125.7 L581.7,127.2 L583.3,131.0 L587.0,133.3 L591.6,134.8 L593.9,139.3 L596.1,142.4 L597.6,145.4 L596.1,149.2 L592.3,150.7 L590.1,153.0 L590.8,156.0 L587.0,157.5 L583.3,157.5 L581.0,160.5 L577.2,161.3 L574.2,161.3 L575.7,165.8 L580.2,165.1 L584.8,163.6 L587.8,163.6 L590.1,161.3 L591.6,166.6 L593.9,171.1 L589.3,170.4 L584.0,170.4 L580.2,173.4 L576.5,176.4 L573.4,178.7 L568.9,181.7 L564.3,185.5 L560.6,190.0 L556.3,193.0 L552.5,196.1 L548.8,198.3 L545.7,199.8 L550.3,202.1 L555.6,204.4 L557.1,208.9 L560.9,211.2 L563.1,214.2 L561.6,218.0 L558.6,220.3 L560.1,224.0 L559.6,226.3 L563.9,227.1 L566.9,229.3 L565.4,233.1 L567.7,236.2 L572.2,236.2 L574.5,233.1 L576.0,230.1 L580.5,229.6 L584.3,230.6 L585.1,233.1 L580.5,234.6 L579.0,236.9 L581.3,239.2 L578.3,242.2 L576.7,245.2 L577.5,248.3 L573.0,251.3 L568.4,254.3 L563.1,255.8 L558.6,255.1 L555.6,255.8 L554.0,258.9 L551.8,262.6 L553.0,263.0 L555.2,266.1 L558.3,269.1 L560.5,272.9 L561.3,276.6 L564.3,278.2 L565.4,280.4 L562.8,283.5 L562.0,286.5 L559.0,289.5 L556.0,291.8 L553.0,291.0 L550.7,288.8 L548.4,286.5 L545.4,285.4 L541.6,286.5 L538.6,288.0 L537.1,291.0 L534.5,294.0 L536.3,296.3 L538.6,298.6 L540.9,301.6 L541.6,305.4 L539.6,308.4 L537.8,311.5 L535.6,314.5 L533.3,318.3 L530.3,320.5 L529.5,323.6 L530.3,325.8 L528.0,326.9 L525.7,325.8 L523.5,323.6 L521.2,324.8 L518.9,327.3 L515.1,329.6 L511.3,331.9 L510.6,334.9 L509.1,337.2 L506.1,336.4 L502.3,334.9 L500.0,334.2 L497.5,336.6 L494.5,339.6 L490.7,341.1 L486.9,343.4 L482.4,345.7 L477.8,347.2 L475.6,349.4 L476.3,352.5 L474.0,354.7 L471.8,357.0 L470.6,358.5 L469.6,361.6 L467.6,363.6 L464.6,367.7 L460.5,370.7 L458.8,375.2 L458.0,378.4 L457.3,382.2 L458.0,386.7 L457.3,390.5 L455.8,394.3 L457.3,396.6 L453.0,398.1 L447.0,400.1 L442.9,400.5 L441.1,403.2 L437.3,405.4 L434.3,408.5 L432.8,412.2 L432.0,416.8 L432.8,420.6 L433.5,424.3 L432.8,427.4 L435.8,428.1 L439.6,427.4 L441.9,429.6 L444.9,431.9 L447.9,433.4 L449.4,437.2 L452.8,440.9 L452.0,445.4 L451.3,450.0 L450.5,453.8 L449.0,457.5 L446.7,461.3 L443.7,465.1 L440.7,468.1 L439.2,470.4 L437.6,473.4 L435.4,475.7 L433.9,478.7 L431.6,481.7 L428.6,481.3 L425.5,481.7 L422.5,484.0 L421.0,487.0 L423.3,489.3 L424.8,492.3 L426.3,495.4 L424.8,498.4 L423.3,500.7 L421.0,500.7 L418.0,499.2 L413.4,499.9 L408.9,500.4 L405.6,500.7 L406.6,498.4 L408.1,495.4 L409.6,492.3 L411.9,490.1 L412.7,487.0 L410.4,484.8 L407.4,484.0 L404.3,483.3 L402.8,481.3 L399.0,481.0 L394.5,482.5 L391.5,484.0 L388.5,485.5 L385.4,484.0 L382.4,481.7 L380.1,479.5 L380.9,476.5 L383.2,474.2 L383.9,471.2 L381.6,468.1 L379.4,465.1 L377.1,462.1 L377.9,458.3 L377.1,454.5 L379.4,451.5 L380.1,448.0 L378.6,447.7 L377.5,450.8 L373.8,451.3 L370.0,451.6 L366.2,452.3 L363.2,453.9 L360.1,452.3 L356.3,450.1 L354.1,447.0 L354.8,444.0 L357.1,440.2 L359.4,436.5 L361.6,433.4 L364.7,430.4 L366.9,427.4 L367.7,423.6 L369.2,419.8 L370.0,416.0 L367.7,413.0 L366.2,409.2 L363.9,406.2 L360.1,404.7 L357.1,403.2 L355.6,400.1 L357.9,399.4 L362.4,399.4 L366.2,397.9 L370.0,396.3 L373.8,394.1 L376.8,392.6 L380.6,391.8 L385.1,393.3 L388.1,395.6 L386.2,391.3 L384.6,388.3 L383.1,385.2 L383.9,381.5 L384.6,376.9 L385.4,373.1 L383.1,373.9 L380.1,375.4 L377.1,376.9 L375.6,375.4 L377.8,373.1 L381.6,371.6 L385.4,369.3 L388.4,367.1 L389.2,364.0 L388.4,360.3 L386.9,356.5 L385.4,352.7 L384.6,353.0 L380.9,353.5 L378.6,351.9 L379.3,348.2 L376.3,345.1 L372.5,341.3 L368.8,342.1 L364.2,343.6 L359.7,344.4 L355.1,345.1 L352.1,345.1 L350.6,342.9 L347.6,344.4 L343.8,347.4 L341.5,350.0 L337.2,353.2 L333.4,351.7 L331.9,348.7 L327.4,351.7 L321.3,354.0 L315.3,356.3 L309.2,359.3 L306.2,359.2 L300.2,361.6 L294.1,355.2 L289.5,351.0 L291.1,351.7 L295.6,349.4 L299.4,347.2 L303.2,344.2 L306.2,341.1 L304.7,338.1 L305.4,335.1 L310.0,332.0 L315.3,329.8 L320.6,326.7 L324.3,324.5 L323.6,322.2 L326.6,320.7 L330.4,318.4 L332.7,315.4 L334.2,311.6 L334.9,307.8 L337.2,306.3 L340.2,307.8 L343.3,306.3 L346.3,305.6 L348.6,307.8 L351.6,308.6 L356.9,309.6 L357.6,310.1 L357.6,305.6 L359.2,301.8 L362.9,299.5 L366.7,297.2 L370.5,295.0 L374.3,292.7 L378.1,290.4 L379.6,285.1 L379.6,279.1 L377.3,274.5 L375.0,270.0 L374.8,274.0 L376.3,268.7 L378.6,262.6 L380.1,264.2 L384.7,261.9 L389.2,262.6 L393.8,261.1 L398.3,258.9 L401.3,256.6 L402.1,252.8 L399.8,249.8 L402.8,246.7 L407.4,243.7 L411.9,239.9 L414.2,236.2 L417.2,234.3 L420.2,235.4 L421.0,238.4 L424.8,239.9 L427.8,239.2 L431.6,242.2 L436.1,243.7 L439.2,243.0 L442.9,242.2 L445.2,243.0 L449.0,244.5 L452.8,246.7 L456.6,244.5 L459.6,242.2Z" fill="none" stroke="#1c1c1c" stroke-opacity="0.75" stroke-width="1.1" stroke-linejoin="round"/>
<path d="M482.3,209.4 L488.4,210.9 L491.5,213.2 L492.2,216.9 L496.0,217.7 L498.3,222.2 L500.5,224.5 L506.6,226.0 L514.2,226.0 L515.7,225.3 L518.7,222.2 L524.7,217.7 L530.8,213.2 L536.9,209.4 L538.4,204.1 L540.4,200.6 L545.7,199.8" fill="none" stroke="#1c1c1c" stroke-opacity="0.75" stroke-width="1.1" stroke-linejoin="round" stroke-linecap="round"/>
<path d="M515.7,225.3 L514.2,229.8 L513.4,235.9 L511.1,240.4 L506.6,244.9 L502.0,247.2 L497.5,246.5 L493.0,247.2 L491.5,251.0 L489.2,253.3 L486.9,256.3 L488.4,258.6 L491.5,259.3 L497.5,260.1 L500.5,263.1 L505.1,261.6 L509.6,260.1 L514.2,262.3 L517.2,266.1 L517.9,270.7 L521.7,273.7 L519.4,274.5 L517.2,279.1 L514.9,283.6 L512.9,286.6 L515.2,288.5" fill="none" stroke="#1c1c1c" stroke-opacity="0.75" stroke-width="1.1" stroke-linejoin="round" stroke-linecap="round"/>
<path d="M437.6,264.2 L440.2,267.5 L442.2,270.0 L445.3,270.5 L449.3,269.5 L453.3,269.0 L458.4,269.5 L463.4,270.0 L468.5,270.5 L473.5,271.6 L478.6,273.1 L483.6,274.6 L485.4,273.8 L492.2,275.3 L496.7,276.8 L498.3,279.1 L496.0,281.3 L494.5,284.4 L496.7,287.4 L500.5,288.2 L505.1,288.9 L508.9,288.2 L512.6,287.4 L515.2,288.5" fill="none" stroke="#1c1c1c" stroke-opacity="0.75" stroke-width="1.1" stroke-linejoin="round" stroke-linecap="round"/>
<path d="M461.9,240.7 L459.6,243.0 L456.6,246.7 L457.3,249.8 L454.3,253.6 L450.5,256.6 L446.7,258.9 L442.9,260.4 L439.9,258.9 L439.2,261.9 L437.6,264.2" fill="none" stroke="#1c1c1c" stroke-opacity="0.75" stroke-width="1.1" stroke-linejoin="round" stroke-linecap="round"/>
<path d="M437.6,264.2 L432.7,268.0 L430.1,270.5 L427.1,272.1 L424.6,274.1 L423.6,276.6 L424.6,279.1 L423.6,281.6 L422.1,283.7 L420.2,283.3 L416.5,282.9 L411.9,284.4 L405.9,285.9 L400.6,288.2 L395.3,290.4 L393.0,291.9 L392.2,294.2 L387.7,292.7 L383.2,291.9 L378.1,290.4" fill="none" stroke="#1c1c1c" stroke-opacity="0.75" stroke-width="1.1" stroke-linejoin="round" stroke-linecap="round"/>
<path d="M422.1,283.7 L424.6,284.7 L427.1,285.2 L428.6,283.7 L430.1,282.7 L432.2,283.7 L434.2,285.2 L435.7,286.7 L436.7,289.2 L438.2,291.7 L438.7,294.3 L436.7,295.8 L434.7,296.8 L432.7,297.8 L431.1,299.3 L432.2,301.8 L433.7,303.8 L433.2,306.4 L432.7,308.4 L433.7,310.9 L434.2,313.4 L432.2,315.4 L429.1,316.5 L426.1,317.5 L423.1,320.0 L421.1,322.0 L419.5,325.0" fill="none" stroke="#1c1c1c" stroke-opacity="0.75" stroke-width="1.1" stroke-linejoin="round" stroke-linecap="round"/>
<path d="M435.7,286.7 L441.2,287.4 L447.3,288.0 L453.3,288.7 L457.4,289.7 L459.9,291.4 L458.9,294.3 L457.4,297.3 L455.9,299.8 L455.4,302.3 L456.9,305.4 L459.4,307.9" fill="none" stroke="#1c1c1c" stroke-opacity="0.75" stroke-width="1.1" stroke-linejoin="round" stroke-linecap="round"/>
<path d="M385.4,352.1 L388.4,349.7 L390.7,347.4 L394.5,345.9 L399.0,344.4 L402.0,342.1 L403.6,338.3 L406.6,336.1 L409.6,333.8 L411.1,330.0 L419.5,325.0 L425.5,324.5 L430.1,325.2 L434.6,326.0 L439.2,326.7 L443.7,326.3 L447.8,325.0 L448.8,323.0 L450.8,321.5 L453.3,320.0 L455.4,318.0 L455.9,315.4 L456.9,312.9 L458.4,310.4 L460.4,308.4 L462.4,306.9 L465.4,304.8 L468.5,302.8 L470.0,303.8 L471.5,306.4 L473.0,308.4 L474.5,310.9 L476.5,311.4 L479.6,310.9 L482.6,309.9 L485.6,308.4 L488.6,307.4 L491.7,307.9 L493.0,307.8 L497.5,309.6 L502.0,309.6 L505.1,307.8 L506.6,309.6 L509.6,310.1" fill="none" stroke="#1c1c1c" stroke-opacity="0.75" stroke-width="1.1" stroke-linejoin="round" stroke-linecap="round"/>
<path d="M515.2,288.5 L515.1,292.5 L513.6,297.1 L512.1,300.9 L511.3,305.4 L509.8,309.2" fill="none" stroke="#1c1c1c" stroke-opacity="0.75" stroke-width="1.1" stroke-linejoin="round" stroke-linecap="round"/>
<path d="M509.8,309.2 L506.8,309.9 L506.1,313.0 L505.3,316.7 L506.1,319.8 L509.1,318.3 L512.9,317.5 L516.6,317.2 L519.7,319.0 L519.7,322.0 L518.9,327.3" fill="none" stroke="#1c1c1c" stroke-opacity="0.75" stroke-width="1.1" stroke-linejoin="round" stroke-linecap="round"/>
<path d="M385.4,352.1 L392.2,351.2 L394.5,354.2 L398.3,355.7 L402.0,354.2 L405.1,352.7 L408.9,351.2 L413.4,349.7 L418.7,348.9 L423.2,347.4 L427.8,345.1 L431.6,344.4 L435.3,345.1 L439.1,346.6 L442.9,348.9 L445.9,350.4 L449.0,351.2 L452.7,352.7 L456.5,351.9 L459.5,357.6 L462.5,359.6 L465.6,361.6 L467.6,363.6" fill="none" stroke="#1c1c1c" stroke-opacity="0.75" stroke-width="1.1" stroke-linejoin="round" stroke-linecap="round"/>
<path d="M357.6,310.1 L360.7,313.1 L363.7,316.2 L367.5,318.4 L372.0,319.2 L373.5,323.0 L375.8,326.0 L374.3,330.5 L375.8,333.6 L373.5,337.3 L372.8,341.9 L372.5,341.3" fill="none" stroke="#1c1c1c" stroke-opacity="0.75" stroke-width="1.1" stroke-linejoin="round" stroke-linecap="round"/>
<path d="M388.1,395.6 L391.9,397.9 L396.5,400.1 L400.2,400.9 L402.5,398.6 L404.0,394.8 L404.8,391.1 L408.6,389.5 L413.1,388.8 L416.9,389.5 L420.7,390.3 L423.7,389.2 L426.7,391.1 L429.7,394.1 L432.0,396.3 L435.8,395.6 L438.8,397.1 L441.9,399.4 L444.1,400.9" fill="none" stroke="#1c1c1c" stroke-opacity="0.75" stroke-width="1.1" stroke-linejoin="round" stroke-linecap="round"/>
<path d="M379.0,451.6 L381.3,451.6 L384.3,451.6 L386.6,450.1 L388.1,447.0 L391.2,444.8 L394.2,442.5 L395.7,438.7 L397.2,436.5 L400.2,435.7 L403.3,437.2 L406.3,438.0 L408.6,435.7 L410.8,433.4 L413.1,431.2 L415.4,428.9 L417.6,429.6 L419.9,431.9 L422.2,430.4 L425.2,428.9 L429.0,428.1 L432.8,427.4" fill="none" stroke="#1c1c1c" stroke-opacity="0.75" stroke-width="1.1" stroke-linejoin="round" stroke-linecap="round"/>
</g>
<text x="517.3" y="179.6" text-anchor="middle" class="ml">沅陵县</text>
<text x="490.3" y="236" text-anchor="middle" class="ml">辰溪县</text>
<text x="543.8" y="247.7" text-anchor="middle" class="ml">溆浦县</text>
<text x="456.1" y="252.9" text-anchor="middle" class="ml">麻阳苗族自治县</text>
<text x="460" y="291.2" text-anchor="middle" class="ml">怀化</text>
<text x="439.5" y="306.5" text-anchor="middle" class="ml">芷江侗族自治县</text>
<text x="372.4" y="316.3" text-anchor="middle" class="ml">新晃侗族自治县</text>
<text x="484.3" y="319" text-anchor="middle" class="ml">洪江市</text>
<text x="427" y="377.5" text-anchor="middle" class="ml">会同县</text>
<text x="442.5" y="415.5" text-anchor="middle" class="ml">靖州苗族侗自治县</text>
<text x="453.1" y="465.3" text-anchor="middle" class="ml">通道侗族自治县</text>
<!-- legend -->
<g>
<rect x="659" y="420.8" width="19.6" height="9.9" fill="#800040"/>
<rect x="659" y="430.6" width="19.6" height="9.9" fill="#fa00fa"/>
<rect x="659" y="440.4" width="19.6" height="9.9" fill="#0000ff"/>
<rect x="659" y="450.2" width="19.6" height="9.9" fill="#61b8ff"/>
<rect x="659" y="460.0" width="19.6" height="9.9" fill="#3dba3d"/>
<rect x="659" y="469.8" width="19.6" height="9.9" fill="#a6f28f"/>
<rect x="659" y="479.6" width="19.6" height="9.9" fill="#e6e6e6"/>
<text x="682" y="431.00" class="lg">250. 0</text>
<text x="682" y="440.81" class="lg">100. 0</text>
<text x="682" y="450.62" class="lg">50. 0</text>
<text x="682" y="460.43" class="lg">25. 0</text>
<text x="682" y="470.24" class="lg">10. 0</text>
<text x="682" y="480.05" class="lg">1. 0</text>
<text x="682" y="489.86" class="lg">0. 1</text>
</g>
<rect x="120.5" y="620.5" width="554" height="303" fill="#fff" stroke="#d9d9d9" stroke-width="1"/>
<line x1="175.0" x2="659.5" y1="832.8" y2="832.8" stroke="#d9d9d9" stroke-width="1"/>
<line x1="175.0" x2="659.5" y1="804.5" y2="804.5" stroke="#d9d9d9" stroke-width="1"/>
<line x1="175.0" x2="659.5" y1="776.3" y2="776.3" stroke="#d9d9d9" stroke-width="1"/>
<line x1="175.0" x2="659.5" y1="748.1" y2="748.1" stroke="#d9d9d9" stroke-width="1"/>
<line x1="175.0" x2="659.5" y1="719.9" y2="719.9" stroke="#d9d9d9" stroke-width="1"/>
<line x1="175.0" x2="659.5" y1="691.6" y2="691.6" stroke="#d9d9d9" stroke-width="1"/>
<line x1="175.0" x2="659.5" y1="663.4" y2="663.4" stroke="#d9d9d9" stroke-width="1"/>
<line x1="175.0" x2="659.5" y1="635.2" y2="635.2" stroke="#d9d9d9" stroke-width="1"/>
<line x1="175.0" x2="659.5" y1="861.0" y2="861.0" stroke="#d0d0d0" stroke-width="1"/>
<line x1="175.0" x2="175.0" y1="861.0" y2="866.0" stroke="#d0d0d0" stroke-width="1"/>
<line x1="187.1" x2="187.1" y1="861.0" y2="866.0" stroke="#d0d0d0" stroke-width="1"/>
<line x1="199.2" x2="199.2" y1="861.0" y2="866.0" stroke="#d0d0d0" stroke-width="1"/>
<line x1="211.3" x2="211.3" y1="861.0" y2="866.0" stroke="#d0d0d0" stroke-width="1"/>
<line x1="223.4" x2="223.4" y1="861.0" y2="866.0" stroke="#d0d0d0" stroke-width="1"/>
<line x1="235.6" x2="235.6" y1="861.0" y2="866.0" stroke="#d0d0d0" stroke-width="1"/>
<line x1="247.7" x2="247.7" y1="861.0" y2="866.0" stroke="#d0d0d0" stroke-width="1"/>
<line x1="259.8" x2="259.8" y1="861.0" y2="866.0" stroke="#d0d0d0" stroke-width="1"/>
<line x1="271.9" x2="271.9" y1="861.0" y2="866.0" stroke="#d0d0d0" stroke-width="1"/>
<line x1="284.0" x2="284.0" y1="861.0" y2="866.0" stroke="#d0d0d0" stroke-width="1"/>
<line x1="296.1" x2="296.1" y1="861.0" y2="866.0" stroke="#d0d0d0" stroke-width="1"/>
<line x1="308.2" x2="308.2" y1="861.0" y2="866.0" stroke="#d0d0d0" stroke-width="1"/>
<line x1="320.4" x2="320.4" y1="861.0" y2="866.0" stroke="#d0d0d0" stroke-width="1"/>
<line x1="332.5" x2="332.5" y1="861.0" y2="866.0" stroke="#d0d0d0" stroke-width="1"/>
<line x1="344.6" x2="344.6" y1="861.0" y2="866.0" stroke="#d0d0d0" stroke-width="1"/>
<line x1="356.7" x2="356.7" y1="861.0" y2="866.0" stroke="#d0d0d0" stroke-width="1"/>
<line x1="368.8" x2="368.8" y1="861.0" y2="866.0" stroke="#d0d0d0" stroke-width="1"/>
<line x1="380.9" x2="380.9" y1="861.0" y2="866.0" stroke="#d0d0d0" stroke-width="1"/>
<line x1="393.0" x2="393.0" y1="861.0" y2="866.0" stroke="#d0d0d0" stroke-width="1"/>
<line x1="405.1" x2="405.1" y1="861.0" y2="866.0" stroke="#d0d0d0" stroke-width="1"/>
<line x1="417.2" x2="417.2" y1="861.0" y2="866.0" stroke="#d0d0d0" stroke-width="1"/>
<line x1="429.4" x2="429.4" y1="861.0" y2="866.0" stroke="#d0d0d0" stroke-width="1"/>
<line x1="441.5" x2="441.5" y1="861.0" y2="866.0" stroke="#d0d0d0" stroke-width="1"/>
<line x1="453.6" x2="453.6" y1="861.0" y2="866.0" stroke="#d0d0d0" stroke-width="1"/>
<line x1="465.7" x2="465.7" y1="861.0" y2="866.0" stroke="#d0d0d0" stroke-width="1"/>
<line x1="477.8" x2="477.8" y1="861.0" y2="866.0" stroke="#d0d0d0" stroke-width="1"/>
<line x1="489.9" x2="489.9" y1="861.0" y2="866.0" stroke="#d0d0d0" stroke-width="1"/>
<line x1="502.0" x2="502.0" y1="861.0" y2="866.0" stroke="#d0d0d0" stroke-width="1"/>
<line x1="514.2" x2="514.2" y1="861.0" y2="866.0" stroke="#d0d0d0" stroke-width="1"/>
<line x1="526.3" x2="526.3" y1="861.0" y2="866.0" stroke="#d0d0d0" stroke-width="1"/>
<line x1="538.4" x2="538.4" y1="861.0" y2="866.0" stroke="#d0d0d0" stroke-width="1"/>
<line x1="550.5" x2="550.5" y1="861.0" y2="866.0" stroke="#d0d0d0" stroke-width="1"/>
<line x1="562.6" x2="562.6" y1="861.0" y2="866.0" stroke="#d0d0d0" stroke-width="1"/>
<line x1="574.7" x2="574.7" y1="861.0" y2="866.0" stroke="#d0d0d0" stroke-width="1"/>
<line x1="586.8" x2="586.8" y1="861.0" y2="866.0" stroke="#d0d0d0" stroke-width="1"/>
<line x1="598.9" x2="598.9" y1="861.0" y2="866.0" stroke="#d0d0d0" stroke-width="1"/>
<line x1="611.0" x2="611.0" y1="861.0" y2="866.0" stroke="#d0d0d0" stroke-width="1"/>
<line x1="623.2" x2="623.2" y1="861.0" y2="866.0" stroke="#d0d0d0" stroke-width="1"/>
<line x1="635.3" x2="635.3" y1="861.0" y2="866.0" stroke="#d0d0d0" stroke-width="1"/>
<line x1="647.4" x2="647.4" y1="861.0" y2="866.0" stroke="#d0d0d0" stroke-width="1"/>
<line x1="659.5" x2="659.5" y1="861.0" y2="866.0" stroke="#d0d0d0" stroke-width="1"/>
<text x="167.5" y="865.0" text-anchor="end" class="ax">0</text>
<text x="167.5" y="836.8" text-anchor="end" class="ax">40000</text>
<text x="167.5" y="808.5" text-anchor="end" class="ax">80000</text>
<text x="167.5" y="780.3" text-anchor="end" class="ax">120000</text>
<text x="167.5" y="752.1" text-anchor="end" class="ax">160000</text>
<text x="167.5" y="723.9" text-anchor="end" class="ax">200000</text>
<text x="167.5" y="695.6" text-anchor="end" class="ax">240000</text>
<text x="167.5" y="667.4" text-anchor="end" class="ax">280000</text>
<text x="167.5" y="639.2" text-anchor="end" class="ax">320000</text>
<text x="181.1" y="880" text-anchor="middle" class="ax">1</text>
<text x="205.3" y="880" text-anchor="middle" class="ax">3</text>
<text x="229.5" y="880" text-anchor="middle" class="ax">5</text>
<text x="253.7" y="880" text-anchor="middle" class="ax">7</text>
<text x="278.0" y="880" text-anchor="middle" class="ax">9</text>
<text x="302.2" y="880" text-anchor="middle" class="ax">11</text>
<text x="326.4" y="880" text-anchor="middle" class="ax">13</text>
<text x="350.6" y="880" text-anchor="middle" class="ax">15</text>
<text x="374.9" y="880" text-anchor="middle" class="ax">17</text>
<text x="399.1" y="880" text-anchor="middle" class="ax">19</text>
<text x="423.3" y="880" text-anchor="middle" class="ax">21</text>
<text x="447.5" y="880" text-anchor="middle" class="ax">23</text>
<text x="471.8" y="880" text-anchor="middle" class="ax">25</text>
<text x="496.0" y="880" text-anchor="middle" class="ax">27</text>
<text x="520.2" y="880" text-anchor="middle" class="ax">29</text>
<text x="544.4" y="880" text-anchor="middle" class="ax">31</text>
<text x="568.7" y="880" text-anchor="middle" class="ax">33</text>
<text x="592.9" y="880" text-anchor="middle" class="ax">35</text>
<text x="617.1" y="880" text-anchor="middle" class="ax">37</text>
<text x="641.3" y="880" text-anchor="middle" class="ax">39</text>
<polyline points="181.1,784.8 193.2,789.0 205.3,784.8 217.4,783.4 229.5,785.1 241.6,780.2 253.7,771.0 265.8,765.7 278.0,765.7 290.1,765.2 302.2,766.5 314.3,777.6 326.4,784.1 338.5,796.5 350.6,817.8 362.7,817.8 374.9,814.4 387.0,823.9 399.1,826.7 411.2,832.1 423.3,830.2 435.4,840.8 447.5,830.7 459.6,834.0 471.8,845.4" fill="none" stroke="#5b9bd5" stroke-width="2.9" stroke-linejoin="round" stroke-linecap="round"/>
<polyline points="181.1,790.9 193.2,794.0 205.3,795.2 217.4,797.2 229.5,788.2 241.6,790.1 253.7,792.2 265.8,791.7 278.0,785.9 290.1,780.1 302.2,783.1 314.3,787.7 326.4,787.7 338.5,795.7 350.6,808.4 362.7,815.1 374.9,770.2 387.0,756.4 399.1,745.0 411.2,734.3 423.3,640.1 435.4,769.0 447.5,760.9 459.6,767.8 471.8,755.1" fill="none" stroke="#ed7d31" stroke-width="2.9" stroke-linejoin="round" stroke-linecap="round"/>
<line x1="341" x2="367" y1="904.4" y2="904.4" stroke="#5b9bd5" stroke-width="2.9" stroke-linecap="round"/>
<text x="372" y="908.2" class="ax" style="font-size:10.6px">2020</text>
<line x1="399.7" x2="425.6" y1="904.4" y2="904.4" stroke="#ed7d31" stroke-width="2.9" stroke-linecap="round"/>
<text x="430.6" y="908.2" class="ax" style="font-size:10.6px">2021</text>
</svg>
<div id="title">2020<span class="hy">-</span>2021<span class="g" style="width:6.7px"></span>年春运<span class="g" style="width:5.6px"></span>40<span class="g" style="width:3.9px"></span><span style="letter-spacing:0.22px">天流量对比趋势图</span></div>
</body></html>
